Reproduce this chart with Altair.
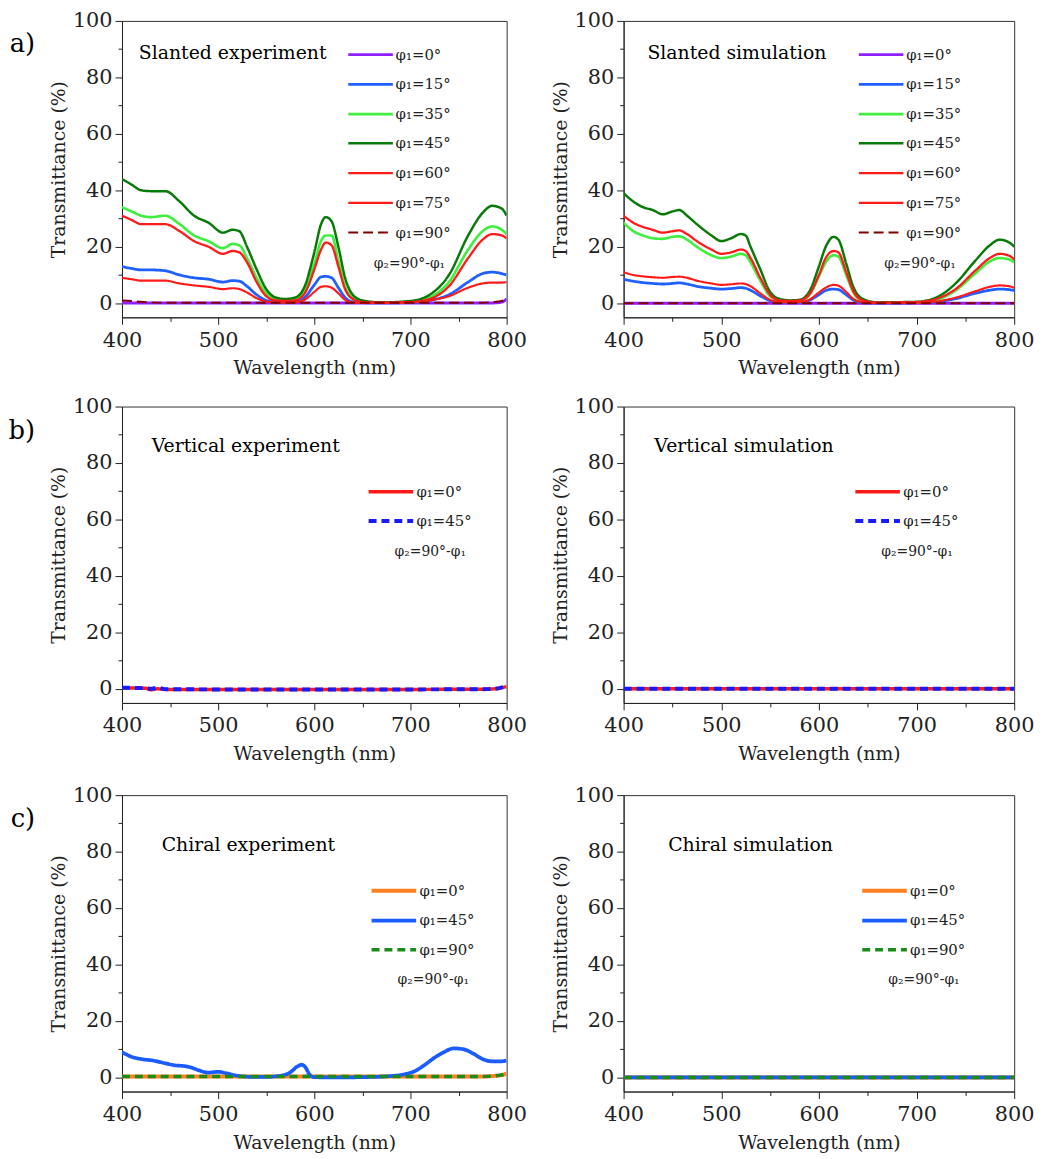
import altair as alt
import pandas as pd

FONT = "DejaVu Serif"

# ---------------- data ----------------
# a) Slanted experiment
wl_a = [400, 410, 420, 430, 445, 460, 475, 490, 505, 515, 522, 530, 540, 550, 560, 570, 580,
        590, 600, 607, 612, 618, 625, 632, 640, 650, 670, 700, 720, 740, 760, 775, 785, 795, 800]
a_exp_0 = [0.1] * 33 + [0.4, 1.5]
a_exp_15 = [13, 12.3, 11.8, 11.8, 11.5, 10, 9, 8.5, 7.5, 8, 7.8, 6, 3, 1, 0.5, 0.3, 0.5,
            2, 6.5, 9.3, 9.5, 9, 5.5, 2, 0.5, 0.2, 0.1, 0.3, 1, 3, 7.5, 10.5, 11, 10.5, 10]
a_exp_35 = [34, 32.5, 31, 30.5, 31, 28, 24, 22, 19.5, 21, 20.5, 16, 9, 3.5, 1.5, 1, 1.5,
            4.5, 14, 22, 24, 24, 15, 6, 2, 0.5, 0.2, 0.5, 2, 7.5, 19, 25.5, 27.2, 26, 24.5]
a_exp_45 = [44, 42, 40, 39.7, 39.7, 36, 31, 28.5, 25, 26, 25.5, 20, 12, 5, 2, 1.5, 2,
            6, 18, 28, 30.5, 29, 20, 9, 3, 1, 0.3, 0.8, 3, 10, 24, 32, 34.5, 33.5, 31]
a_exp_60 = [31, 29.5, 28, 28, 28, 25.5, 22, 20, 17.5, 18.5, 18, 14.5, 7.5, 2.5, 1, 0.8, 1,
            3.5, 12, 19, 21.5, 20.5, 13, 5, 1.5, 0.4, 0.2, 0.4, 1.5, 6, 16, 22.5, 24.5, 24, 23]
a_exp_75 = [9, 8.5, 8, 8, 8, 7, 6.3, 5.8, 5, 5.3, 5, 3.8, 1.8, 0.6, 0.3, 0.2, 0.3,
            1.2, 4, 5.8, 6, 5.5, 3.5, 1.2, 0.3, 0.1, 0.1, 0.3, 1, 2.5, 5.5, 7, 7.3, 7.3, 7.5]
a_exp_90 = [1, 0.8, 0.5, 0.3] + [0.2] * 28 + [0.4, 0.8, 2]

# a) Slanted simulation
wl_as = [400, 410, 420, 430, 440, 450, 457, 465, 475, 490, 500, 510, 520, 525, 530, 540, 550,
         560, 570, 580, 590, 600, 607, 615, 620, 628, 635, 645, 660, 700, 720, 740, 760, 775,
         785, 795, 800]
a_sim_0 = [0.0] * 37
a_sim_15 = [8.5, 7.8, 7.3, 7, 6.8, 7, 7.2, 6.8, 6, 5.3, 5, 5.2, 5.5, 5.3, 4.6, 2.6, 0.9,
            0.3, 0.2, 0.3, 1, 3, 4.5, 5, 4.8, 3, 1.2, 0.3, 0.1, 0.2, 0.5, 1.6, 3.5, 4.6,
            5, 4.8, 4.5]
a_sim_35 = [28.5, 25.5, 24, 23, 22.8, 23.5, 23.7, 22.5, 20, 17, 16, 16.5, 17.5, 17, 14.5, 8, 2.5,
            1, 0.6, 0.8, 2.8, 9.5, 14.5, 17, 16.5, 10, 4, 0.8, 0.2, 0.3, 1.2, 4.5, 10.5, 14.8,
            16, 15.5, 14.5]
a_sim_45 = [39, 36, 34, 33, 31.5, 32.5, 33, 31, 28, 24, 22, 23, 24.5, 24, 20, 12, 4,
            1.5, 1, 1.2, 4, 13, 20, 23.5, 22.5, 14, 6, 1.5, 0.3, 0.5, 2, 7, 15, 20.5,
            22.5, 21.5, 20]
a_sim_60 = [31, 28.5, 27, 26, 25, 25.5, 25.8, 24.5, 22, 19, 17.5, 18, 19, 18.5, 16, 9, 3,
            1, 0.8, 1, 3, 10, 16, 18.5, 18, 11, 4.5, 1, 0.2, 0.4, 1.5, 5, 11.5, 16,
            17.5, 16.8, 15.5]
a_sim_75 = [11, 10, 9.5, 9.2, 9, 9.3, 9.4, 9, 8, 7, 6.5, 6.7, 7, 6.8, 6, 3.5, 1.2,
            0.4, 0.3, 0.4, 1.2, 3.8, 5.5, 6.5, 6.2, 4, 1.6, 0.4, 0.1, 0.2, 0.6, 2, 4.2, 5.8,
            6.3, 6, 5.5]
a_sim_90 = [0.0] * 37

# b) Vertical
wl_b = [400, 415, 425, 430, 437, 445, 500, 600, 700, 780, 790, 795, 800]
b_exp_0 = [0.3, 0.3, 0.2, -0.3, 0.0, -0.2, -0.2, -0.2, -0.2, -0.1, 0.1, 0.4, 0.8]
b_exp_45 = [0.4, 0.3, 0.2, 0.0, 0.4, -0.1, -0.2, -0.2, -0.2, -0.1, 0.1, 0.5, 0.9]
b_sim_0 = [0.0] * 13
b_sim_45 = [0.0] * 13

# c) Chiral
wl_c = [400, 410, 420, 432, 445, 455, 465, 472, 480, 490, 500, 508, 520, 535, 550, 565, 575,
        582, 587, 591, 595, 600, 620, 650, 680, 695, 705, 715, 725, 735, 745, 755, 765, 775,
        785, 795, 800]
c_exp_0 = [0.3] * 34 + [0.5, 0.8, 1.5]
c_exp_45 = [9, 7.3, 6.5, 6, 5, 4.3, 4, 3.5, 2.5, 1.7, 2, 1.5, 0.6, 0.2, 0.2, 0.6, 1.8,
            3.8, 4.5, 3.5, 1, 0.1, 0, 0.1, 0.5, 1.2, 2.3, 4.5, 7, 9, 10.3, 10, 8.5, 6.5,
            5.7, 5.7, 6]
c_exp_90 = [0.3] * 34 + [0.5, 0.9, 1.6]
c_sim_0 = [0.0] * 37
c_sim_45 = [0.0] * 37
c_sim_90 = [0.0] * 37

# legend labels
lab_a = ["φ₁=0°", "φ₁=15°", "φ₁=35°", "φ₁=45°", "φ₁=60°", "φ₁=75°", "φ₁=90°"]
lab_b = ["φ₁=0°", "φ₁=45°"]
lab_c = ["φ₁=0°", "φ₁=45°", "φ₁=90°"]
note = "φ₂=90°-φ₁"

# styles
col_a = ["#8f1fff", "#2060ff", "#40ee40", "#087a08", "#ff1a1a", "#ff1a1a", "#800000"]
wid_a = [3, 2, 2, 4.5, 3.5, 3, 3.5]
dash_a = [[1, 0]] * 6 + [[10, 5]]
col_b = ["#ff1a1a", "#1a1aff"]
wid_b = [3.5, 4]
dash_b = [[1, 0], [8, 5]]
col_c = ["#ff8020", "#1a5cff", "#1a8c1a"]
wid_c = [4, 3.5, 3.5]
dash_c = [[1, 0], [1, 0], [8, 5]]


def make_df(wl, series, labels):
    rows = []
    for lab, vals in zip(labels, series):
        for w, v in zip(wl, vals):
            rows.append({"wl": w, "T": v, "s": lab})
    return pd.DataFrame(rows)


def panel(df, labels, colors, widths, dashes, title, tdx, tdy, lx, ly, w, rowpad=8):
    leg = alt.Legend(
        orient="none", legendX=lx, legendY=ly, title=note, titleOrient="bottom",
        titleFont=FONT, titleFontSize=14, titleFontWeight="normal", titleAnchor="middle",
        titlePadding=16, labelFont=FONT, labelFontSize=15, labelOffset=1,
        symbolType="M-3,0H1", symbolSize=506, rowPadding=rowpad, padding=0,
    )
    return alt.Chart(df).mark_line(interpolate="monotone", clip=True).encode(
        x=alt.X("wl:Q", title="Wavelength (nm)",
                scale=alt.Scale(domain=[400, 800], nice=False, zero=False),
                axis=alt.Axis(values=list(range(400, 801, 50)), labelFlush=False,
                              labelExpr="datum.value % 100 === 0 ? datum.label : ''",
                              tickSize={"condition": {"test": "datum.value % 100 === 0", "value": 7}, "value": 4},
                              labelPadding=5, titlePadding=9)),
        y=alt.Y("T:Q", title="Transmittance (%)",
                scale=alt.Scale(domain=[-5, 100], nice=False, zero=False),
                axis=alt.Axis(values=list(range(0, 101, 10)), labelFlush=False,
                              labelExpr="datum.value % 20 === 0 ? datum.label : ''",
                              tickSize={"condition": {"test": "datum.value % 20 === 0", "value": 7}, "value": 4},
                              labelPadding=3, titlePadding=4)),
        color=alt.Color("s:N", scale=alt.Scale(domain=labels, range=colors), legend=leg),
        strokeDash=alt.StrokeDash("s:N", scale=alt.Scale(domain=labels, range=dashes), legend=leg),
        strokeWidth=alt.StrokeWidth("s:O", scale=alt.Scale(domain=labels, range=widths), legend=leg),
    ).properties(
        width=w, height=299,
        title=alt.TitleParams(title, anchor="start", frame="group", dx=tdx, dy=tdy, offset=0,
                              baseline="alphabetic", font=FONT, fontSize=19, fontWeight="normal"),
    )


WL, WR = 388, 394

pa1 = panel(make_df(wl_a, [a_exp_0, a_exp_15, a_exp_35, a_exp_45, a_exp_60, a_exp_75, a_exp_90], lab_a),
            lab_a, col_a, wid_a, dash_a, "Slanted experiment", 17, 68, 249, 21, WL, 9)
pa2 = panel(make_df(wl_as, [a_sim_0, a_sim_15, a_sim_35, a_sim_45, a_sim_60, a_sim_75, a_sim_90], lab_a),
            lab_a, col_a, wid_a, dash_a, "Slanted simulation", 24, 68, 258, 21, WR, 9)
pb1 = panel(make_df(wl_b, [b_exp_0, b_exp_45], lab_b),
            lab_b, col_b, wid_b, dash_b, "Vertical experiment", 30, 76, 269, 73, WL)
pb2 = panel(make_df(wl_b, [b_sim_0, b_sim_45], lab_b),
            lab_b, col_b, wid_b, dash_b, "Vertical simulation", 31, 76, 254, 73, WR)
pc1 = panel(make_df(wl_c, [c_exp_0, c_exp_45, c_exp_90], lab_c),
            lab_c, col_c, wid_c, dash_c, "Chiral experiment", 40, 86, 272, 83, WL)
pc2 = panel(make_df(wl_c, [c_sim_0, c_sim_45, c_sim_90], lab_c),
            lab_c, col_c, wid_c, dash_c, "Chiral simulation", 45, 86, 261, 83, WR)


def row(left, right, letter, ldy):
    return alt.hconcat(left, right, spacing=23).resolve_scale(
        color="independent", strokeDash="independent", strokeWidth="independent"
    ).properties(title=alt.TitleParams(letter, orient="left", anchor="end", angle=0,
                                       font=FONT, fontSize=26, fontWeight="normal",
                                       offset=14, dy=ldy, align="left"))


top = alt.vconcat(row(pa1, pa2, "a)", 22), row(pb1, pb2, "b)", 23), spacing=16)
chart = alt.vconcat(top, row(pc1, pc2, "c)", 23), spacing=19).properties(
    padding={"left": 0, "top": -4, "right": 0, "bottom": 0}
).configure_view(stroke="#333333", strokeWidth=1).configure_axis(
    labelFont=FONT, labelFontSize=21, titleFont=FONT, titleFontSize=19, titleFontWeight="normal",
    grid=False, domainColor="#222222", tickColor="#222222", labelColor="#222222", titleColor="#222222",
).configure_legend(labelColor="#222222", titleColor="#222222")

chart.save("out.html", embed_options={"renderer": "svg", "actions": False})
